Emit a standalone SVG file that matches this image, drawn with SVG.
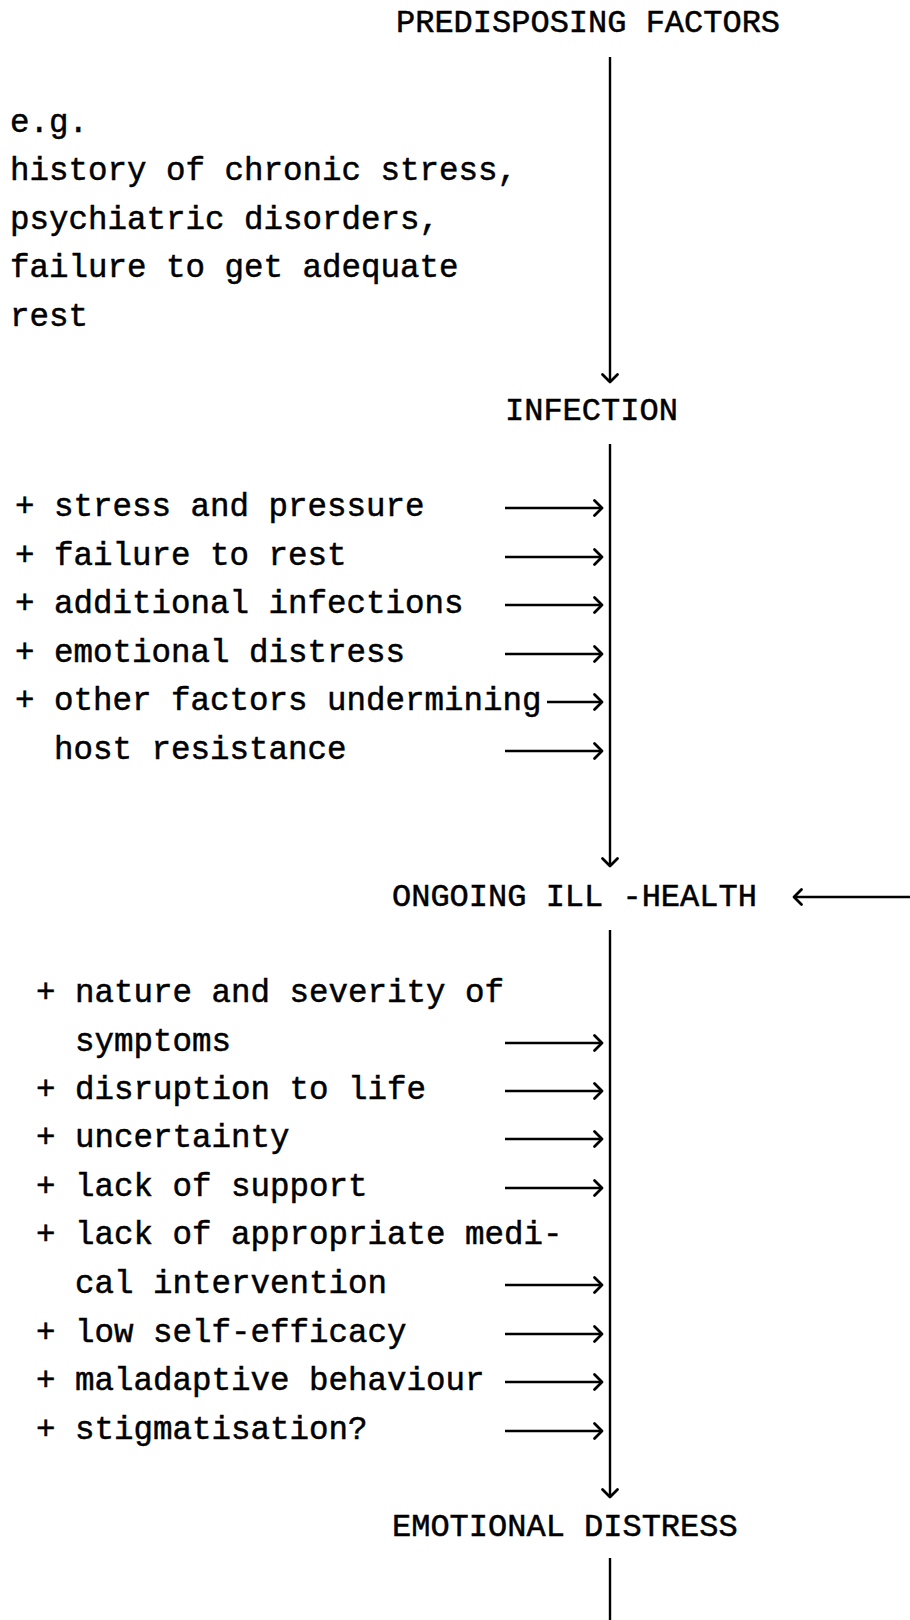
<svg xmlns="http://www.w3.org/2000/svg" width="910" height="1620" viewBox="0 0 910 1620">
<style>
text{font-family:"Liberation Mono","Courier New",monospace;font-size:32.5px;fill:#000;stroke:#000;stroke-width:0.5}
.h{font-size:32px}
.c line{stroke:#000;stroke-width:2.4;fill:none}
</style>
<defs>
<marker id="ah" markerUnits="userSpaceOnUse" markerWidth="20" markerHeight="20" viewBox="-10 -10 20 20" refX="0" refY="0" orient="auto">
<path d="M-7.5,-7.5 L0,0 L-7.5,7.5" fill="none" stroke="#000" stroke-width="2.8" stroke-linecap="round" stroke-linejoin="round"/>
</marker>
</defs>
<rect width="910" height="1620" fill="#fff"/>
<g id="n-predisposing"><text class="h" x="396" y="32">PREDISPOSING FACTORS</text></g>
<g id="n-eg">
<text x="10" y="132">e.g.</text>
<text x="10" y="180">history of chronic stress,</text>
<text x="10" y="229">psychiatric disorders,</text>
<text x="10" y="277">failure to get adequate</text>
<text x="10" y="326">rest</text>
</g>
<g id="n-infection"><text class="h" x="505" y="420">INFECTION</text></g>
<g id="n-factors1">
<text x="15" y="516">+ stress and pressure</text>
<text x="15" y="565">+ failure to rest</text>
<text x="15" y="613">+ additional infections</text>
<text x="15" y="662">+ emotional distress</text>
<text x="15" y="710">+ other factors undermining</text>
<text x="54" y="759">host resistance</text>
</g>
<g id="n-ongoing"><text class="h" x="392" y="906">ONGOING ILL -HEALTH</text></g>
<g id="n-factors2">
<text x="36" y="1002">+ nature and severity of</text>
<text x="75" y="1051">symptoms</text>
<text x="36" y="1099">+ disruption to life</text>
<text x="36" y="1147">+ uncertainty</text>
<text x="36" y="1196">+ lack of support</text>
<text x="36" y="1244">+ lack of appropriate medi-</text>
<text x="75" y="1293">cal intervention</text>
<text x="36" y="1342">+ low self-efficacy</text>
<text x="36" y="1390">+ maladaptive behaviour</text>
<text x="36" y="1439">+ stigmatisation?</text>
</g>
<g id="n-emotional"><text class="h" x="392" y="1536">EMOTIONAL DISTRESS</text></g>
<g id="connectors" class="c">
<line x1="610" y1="57" x2="610" y2="382" marker-end="url(#ah)"/>
<line x1="610" y1="444" x2="610" y2="866" marker-end="url(#ah)"/>
<line x1="910" y1="897" x2="794" y2="897" marker-end="url(#ah)"/>
<line x1="610" y1="930" x2="610" y2="1497" marker-end="url(#ah)"/>
<line x1="610" y1="1558" x2="610" y2="1620"/>
<line x1="505" y1="508" x2="602" y2="508" marker-end="url(#ah)"/>
<line x1="505" y1="557" x2="602" y2="557" marker-end="url(#ah)"/>
<line x1="505" y1="605" x2="602" y2="605" marker-end="url(#ah)"/>
<line x1="505" y1="654" x2="602" y2="654" marker-end="url(#ah)"/>
<line x1="547" y1="702" x2="602" y2="702" marker-end="url(#ah)"/>
<line x1="505" y1="751" x2="602" y2="751" marker-end="url(#ah)"/>
<line x1="505" y1="1043" x2="602" y2="1043" marker-end="url(#ah)"/>
<line x1="505" y1="1091" x2="602" y2="1091" marker-end="url(#ah)"/>
<line x1="505" y1="1139" x2="602" y2="1139" marker-end="url(#ah)"/>
<line x1="505" y1="1188" x2="602" y2="1188" marker-end="url(#ah)"/>
<line x1="505" y1="1285" x2="602" y2="1285" marker-end="url(#ah)"/>
<line x1="505" y1="1334" x2="602" y2="1334" marker-end="url(#ah)"/>
<line x1="505" y1="1382" x2="602" y2="1382" marker-end="url(#ah)"/>
<line x1="505" y1="1431" x2="602" y2="1431" marker-end="url(#ah)"/>
</g>
</svg>
